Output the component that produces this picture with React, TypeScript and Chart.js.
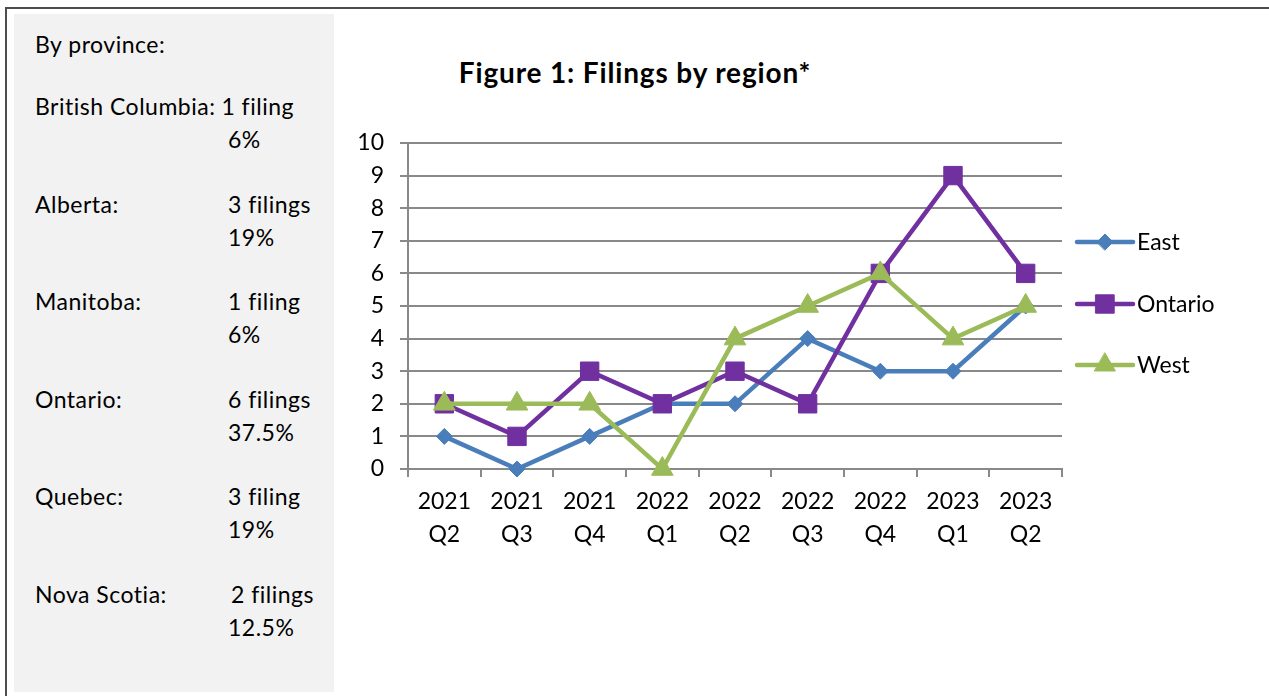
import React, { useEffect, useRef } from 'react';
import { Chart, registerables } from 'chart.js';
import { drawPoint } from 'chart.js/helpers';

Chart.register(...registerables);

const categories = [
  ['2021', 'Q2'], ['2021', 'Q3'], ['2021', 'Q4'], ['2022', 'Q1'], ['2022', 'Q2'],
  ['2022', 'Q3'], ['2022', 'Q4'], ['2023', 'Q1'], ['2023', 'Q2'],
];
const eastValues = [1, 0, 1, 2, 2, 4, 3, 3, 5];
const ontarioValues = [2, 1, 3, 2, 3, 2, 6, 9, 6];
const westValues = [2, 2, 2, 0, 4, 5, 6, 4, 5];
const seriesNames = ['East', 'Ontario', 'West'];
const yMin = 0;
const yMax = 10;
const yStep = 1;

const provinces = ['British Columbia:', 'Alberta:', 'Manitoba:', 'Ontario:', 'Quebec:', 'Nova Scotia:'];
const provinceFilings = ['1 filing', '3 filings', '1 filing', '6 filings', '3 filing', '2 filings'];
const provinceShares = ['6%', '19%', '6%', '37.5%', '19%', '12.5%'];

const titleText = 'Figure 1: Filings by region*';
const panelHeading = 'By province:';

const FONT = 'Lato, "Open Sans", sans-serif';
const GRID = '#898989';

const sideLegend = {
  id: 'sideLegend',
  afterDraw(chart: any) {
    const ctx = chart.ctx;
    const x0 = chart.chartArea.right + 15;
    const len = 56;
    const ys = [242, 304, 365];
    ctx.save();
    chart.data.datasets.forEach((ds: any, i: number) => {
      const y = ys[i];
      ctx.strokeStyle = ds.borderColor;
      ctx.lineWidth = ds.borderWidth;
      ctx.lineCap = 'round';
      ctx.beginPath();
      ctx.moveTo(x0, y);
      ctx.lineTo(x0 + len, y);
      ctx.stroke();
      ctx.fillStyle = ds.pointBackgroundColor;
      ctx.strokeStyle = ds.pointBorderColor;
      ctx.lineWidth = 1;
      drawPoint(ctx, { pointStyle: ds.pointStyle, radius: ds.legendRadius, borderWidth: 1, rotation: 0 }, x0 + len / 2, y);
      ctx.fillStyle = '#000';
      ctx.font = `23px ${FONT}`;
      ctx.textAlign = 'left';
      ctx.textBaseline = 'middle';
      ctx.fillText(ds.label, x0 + len + 4, y + 1);
    });
    ctx.restore();
  },
};

function LineChart() {
  const ref = useRef<HTMLCanvasElement>(null);
  useEffect(() => {
    const canvas = ref.current!;
    const mk = (label: string, data: number[], color: string, style: string, r: number, lr: number, order: number) => ({
      label,
      data,
      borderColor: color,
      backgroundColor: color,
      pointBackgroundColor: color,
      pointBorderColor: color,
      pointBorderWidth: 1,
      borderWidth: 4.5,
      pointStyle: style,
      pointRadius: r,
      legendRadius: lr,
      tension: 0,
      clip: false,
      order,
    });
    const chart = new Chart(canvas, {
      type: 'line',
      data: {
        labels: categories,
        datasets: [
          mk(seriesNames[0], eastValues, '#4a7ebb', 'rectRot', 8, 8, 2),
          mk(seriesNames[1], ontarioValues, '#7030a0', 'rect', 13, 13, 1),
          mk(seriesNames[2], westValues, '#9bbb59', 'triangle', 12.5, 12, 0),
        ] as any,
      },
      options: {
        responsive: false,
        animation: false,
        devicePixelRatio: 1,
        layout: { padding: { top: 143, right: 207, bottom: 127, left: 0 } },
        plugins: { legend: { display: false }, title: { display: false }, tooltip: { enabled: false } },
        scales: {
          x: {
            type: 'category',
            offset: true,
            afterFit: (s: any) => { s.height = 100; },
            grid: { offset: true, drawOnChartArea: false, drawTicks: true, tickLength: 8, color: GRID, lineWidth: 2 },
            border: { color: GRID, width: 2 },
            ticks: { color: '#000', padding: 8, maxRotation: 0, autoSkip: false, font: { family: FONT, size: 23, lineHeight: 1.43 } },
          },
          y: {
            min: yMin,
            max: yMax,
            afterFit: (s: any) => { s.width = 74; },
            grid: { color: GRID, lineWidth: 2, tickLength: 8 },
            border: { color: GRID, width: 2 },
            ticks: { stepSize: yStep, color: '#000', padding: 16, font: { family: FONT, size: 23 } },
          },
        },
      },
      plugins: [sideLegend],
    });
    return () => chart.destroy();
  }, []);
  return <canvas ref={ref} width={935} height={696} style={{ position: 'absolute', left: 334, top: 0, width: 935, height: 696 }} />;
}

export default function App() {
  const textStyle = { fontSize: 23, letterSpacing: 0.5, lineHeight: '33px', whiteSpace: 'nowrap' as const };
  return (
    <div style={{ position: 'fixed', left: 0, top: 0, width: 1269, height: 696, background: '#fff', overflow: 'hidden', fontFamily: FONT, color: '#000' }}>
      <div style={{ position: 'absolute', left: 5, top: 7, width: 1300, height: 720, border: '2px solid #4d4d4d', boxSizing: 'border-box' }} />
      <div style={{ position: 'absolute', left: 14, top: 14, width: 320, height: 678, background: '#f2f2f2' }} />
      <div style={{ position: 'absolute', left: 35, top: 28, ...textStyle }}>{panelHeading}</div>
      {provinces.map((p, i) => (
        <div key={p} style={{ position: 'absolute', left: 35, top: 90 + i * 97.6, ...textStyle }}>
          <div>
            <span style={{ display: 'inline-block', minWidth: i === 0 ? 0 : 193, marginRight: i === 0 ? 6 : 0 }}>{p}</span>
            <span style={{ paddingLeft: i === 5 ? 3 : 0 }}>{provinceFilings[i]}</span>
          </div>
          <div style={{ paddingLeft: 193 }}>{provinceShares[i]}</div>
        </div>
      ))}
      <div style={{ position: 'absolute', left: 335, width: 600, top: 55, textAlign: 'center', fontSize: 28, letterSpacing: 0.85, fontWeight: 'bold', lineHeight: '34px', whiteSpace: 'nowrap' }}>{titleText}</div>
      <LineChart />
    </div>
  );
}
